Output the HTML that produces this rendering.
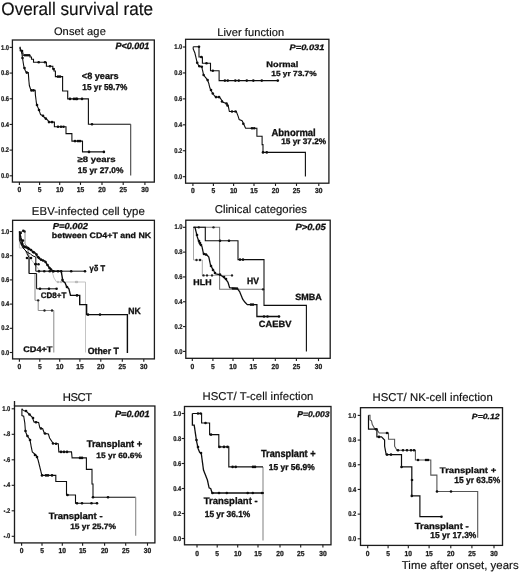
<!DOCTYPE html>
<html><head><meta charset="utf-8"><title>Overall survival rate</title>
<style>html,body{margin:0;padding:0;background:#fff;} body{width:520px;height:573px;overflow:hidden;}</style>
</head><body>
<svg width="520" height="573" viewBox="0 0 520 573" style="display:block">
<rect width="520" height="573" fill="#fff"/>
<defs><filter id="bl" x="-2%" y="-2%" width="104%" height="104%"><feGaussianBlur stdDeviation="0.35"/></filter></defs>
<g font-family='"Liberation Sans", sans-serif' text-rendering="geometricPrecision" filter="url(#bl)">
<text transform="translate(1.30,15.00) scale(1,1.06)" font-size="17.0" font-weight="normal" font-style="normal" fill="#111" textLength="151.80" lengthAdjust="spacingAndGlyphs" stroke="#111" stroke-width="0.16">Overall survival rate</text>
<text x="53.90" y="34.60" font-size="11.1" font-weight="normal" font-style="normal" fill="#111" textLength="51.90" lengthAdjust="spacing" stroke="#111" stroke-width="0.16">Onset age</text>
<rect x="12.40" y="40.00" width="141.90" height="142.10" fill="none" stroke="#1a1a1a" stroke-width="1.3"/>
<line x1="9.60" y1="47.40" x2="12.40" y2="47.40" stroke="#1a1a1a" stroke-width="1.1"/>
<text transform="translate(9.10,49.50) scale(1,1.2)" font-size="5.8" font-weight="bold" font-style="normal" fill="#1a1a1a" text-anchor="end" stroke="#1a1a1a" stroke-width="0.2">1.0</text>
<line x1="9.60" y1="73.08" x2="12.40" y2="73.08" stroke="#1a1a1a" stroke-width="1.1"/>
<text transform="translate(9.10,75.18) scale(1,1.2)" font-size="5.8" font-weight="bold" font-style="normal" fill="#1a1a1a" text-anchor="end" stroke="#1a1a1a" stroke-width="0.2">0.8</text>
<line x1="9.60" y1="98.76" x2="12.40" y2="98.76" stroke="#1a1a1a" stroke-width="1.1"/>
<text transform="translate(9.10,100.86) scale(1,1.2)" font-size="5.8" font-weight="bold" font-style="normal" fill="#1a1a1a" text-anchor="end" stroke="#1a1a1a" stroke-width="0.2">0.6</text>
<line x1="9.60" y1="124.44" x2="12.40" y2="124.44" stroke="#1a1a1a" stroke-width="1.1"/>
<text transform="translate(9.10,126.54) scale(1,1.2)" font-size="5.8" font-weight="bold" font-style="normal" fill="#1a1a1a" text-anchor="end" stroke="#1a1a1a" stroke-width="0.2">0.4</text>
<line x1="9.60" y1="150.12" x2="12.40" y2="150.12" stroke="#1a1a1a" stroke-width="1.1"/>
<text transform="translate(9.10,152.22) scale(1,1.2)" font-size="5.8" font-weight="bold" font-style="normal" fill="#1a1a1a" text-anchor="end" stroke="#1a1a1a" stroke-width="0.2">0.2</text>
<line x1="9.60" y1="175.80" x2="12.40" y2="175.80" stroke="#1a1a1a" stroke-width="1.1"/>
<text transform="translate(9.10,177.90) scale(1,1.2)" font-size="5.8" font-weight="bold" font-style="normal" fill="#1a1a1a" text-anchor="end" stroke="#1a1a1a" stroke-width="0.2">0.0</text>
<line x1="19.40" y1="182.10" x2="19.40" y2="184.90" stroke="#1a1a1a" stroke-width="1.1"/>
<text transform="translate(19.40,192.40) scale(1,1.08)" font-size="6.7" font-weight="bold" font-style="normal" fill="#1a1a1a" text-anchor="middle" stroke="#1a1a1a" stroke-width="0.25">0</text>
<line x1="39.60" y1="182.10" x2="39.60" y2="184.90" stroke="#1a1a1a" stroke-width="1.1"/>
<text transform="translate(39.60,192.40) scale(1,1.08)" font-size="6.7" font-weight="bold" font-style="normal" fill="#1a1a1a" text-anchor="middle" stroke="#1a1a1a" stroke-width="0.25">5</text>
<line x1="59.70" y1="182.10" x2="59.70" y2="184.90" stroke="#1a1a1a" stroke-width="1.1"/>
<text transform="translate(59.70,192.40) scale(1,1.08)" font-size="6.7" font-weight="bold" font-style="normal" fill="#1a1a1a" text-anchor="middle" stroke="#1a1a1a" stroke-width="0.25">10</text>
<line x1="80.50" y1="182.10" x2="80.50" y2="184.90" stroke="#1a1a1a" stroke-width="1.1"/>
<text transform="translate(80.50,192.40) scale(1,1.08)" font-size="6.7" font-weight="bold" font-style="normal" fill="#1a1a1a" text-anchor="middle" stroke="#1a1a1a" stroke-width="0.25">15</text>
<line x1="102.00" y1="182.10" x2="102.00" y2="184.90" stroke="#1a1a1a" stroke-width="1.1"/>
<text transform="translate(102.00,192.40) scale(1,1.08)" font-size="6.7" font-weight="bold" font-style="normal" fill="#1a1a1a" text-anchor="middle" stroke="#1a1a1a" stroke-width="0.25">20</text>
<line x1="123.20" y1="182.10" x2="123.20" y2="184.90" stroke="#1a1a1a" stroke-width="1.1"/>
<text transform="translate(123.20,192.40) scale(1,1.08)" font-size="6.7" font-weight="bold" font-style="normal" fill="#1a1a1a" text-anchor="middle" stroke="#1a1a1a" stroke-width="0.25">25</text>
<line x1="144.90" y1="182.10" x2="144.90" y2="184.90" stroke="#1a1a1a" stroke-width="1.1"/>
<text transform="translate(144.90,192.40) scale(1,1.08)" font-size="6.7" font-weight="bold" font-style="normal" fill="#1a1a1a" text-anchor="middle" stroke="#1a1a1a" stroke-width="0.25">30</text>
<text transform="translate(115.45,48.80) scale(1,1.019)" font-size="9.03" font-weight="bold" font-style="italic" fill="#111" textLength="33.90" lengthAdjust="spacingAndGlyphs" stroke="#111" stroke-width="0.32">P&lt;0.001</text>
<text transform="translate(81.85,78.80) scale(1,1.008)" font-size="9.1" font-weight="bold" font-style="normal" fill="#111" textLength="36.70" lengthAdjust="spacingAndGlyphs" stroke="#111" stroke-width="0.32">&lt;8 years</text>
<text transform="translate(82.35,90.00) scale(1,1.043)" font-size="8.26" font-weight="bold" font-style="normal" fill="#111" textLength="45.00" lengthAdjust="spacingAndGlyphs" stroke="#111" stroke-width="0.32">15 yr 59.7%</text>
<text transform="translate(77.45,162.30) scale(1,0.838)" font-size="9.56" font-weight="bold" font-style="normal" fill="#111" textLength="38.20" lengthAdjust="spacingAndGlyphs" stroke="#111" stroke-width="0.32">≥8 years</text>
<text transform="translate(77.85,173.00) scale(1,0.983)" font-size="8.35" font-weight="bold" font-style="normal" fill="#111" textLength="45.50" lengthAdjust="spacingAndGlyphs" stroke="#111" stroke-width="0.32">15 yr 27.0%</text>
<polyline points="19.60,47.40 20.20,47.40 20.20,50.70 21.90,50.70 21.90,53.00 23.00,53.00 23.00,55.30 30.00,55.30 30.00,57.00 31.50,57.00 31.50,59.30 33.50,59.30 33.50,62.20 46.40,62.20 46.40,66.20 52.80,66.20 52.80,68.50 54.00,68.50 54.00,71.00 55.40,71.00 55.40,76.60 62.60,76.60 62.60,91.00 67.70,91.00 67.70,98.90 88.40,98.90 88.40,124.30 130.70,124.30" fill="none" stroke="#111" stroke-width="1.1" stroke-linejoin="miter" stroke-linecap="butt"/>
<polyline points="130.70,124.30 130.70,175.60" fill="none" stroke="#444" stroke-width="1.1" stroke-linejoin="miter" stroke-linecap="butt"/>
<circle cx="22.00" cy="51.00" r="1.30" fill="#111"/>
<circle cx="25.00" cy="55.30" r="1.30" fill="#111"/>
<circle cx="27.00" cy="55.30" r="1.30" fill="#111"/>
<circle cx="29.00" cy="55.30" r="1.30" fill="#111"/>
<circle cx="38.70" cy="62.20" r="1.30" fill="#111"/>
<circle cx="45.00" cy="62.20" r="1.30" fill="#111"/>
<circle cx="50.00" cy="66.20" r="1.30" fill="#111"/>
<circle cx="53.50" cy="69.00" r="1.30" fill="#111"/>
<circle cx="58.00" cy="76.60" r="1.30" fill="#111"/>
<circle cx="60.00" cy="76.60" r="1.30" fill="#111"/>
<circle cx="70.00" cy="98.90" r="1.30" fill="#111"/>
<circle cx="74.00" cy="98.90" r="1.30" fill="#111"/>
<circle cx="76.00" cy="98.90" r="1.30" fill="#111"/>
<circle cx="77.00" cy="98.90" r="1.30" fill="#111"/>
<circle cx="82.00" cy="98.90" r="1.30" fill="#111"/>
<circle cx="92.00" cy="124.30" r="1.30" fill="#111"/>
<polyline points="19.60,47.40 21.00,50.00 21.90,53.50 22.50,58.00 23.60,65.00 24.20,68.00 25.40,70.80 26.50,72.60 28.30,72.60 28.60,77.00 28.80,80.00 29.40,85.80 30.60,89.30 31.50,90.40 35.20,90.40 35.40,95.00 36.50,103.70 37.50,106.50 38.80,109.40 40.60,114.60 42.90,115.80 44.00,117.00 45.80,118.60 47.50,120.00 49.20,122.10 54.40,122.10 54.40,126.70 66.00,126.70 66.00,133.60 71.90,133.60 71.90,141.10 82.50,141.10 82.50,151.90 103.90,151.90" fill="none" stroke="#111" stroke-width="1.1" stroke-linejoin="miter" stroke-linecap="butt"/>
<circle cx="22.50" cy="58.00" r="1.30" fill="#111"/>
<circle cx="24.50" cy="68.00" r="1.30" fill="#111"/>
<circle cx="26.80" cy="72.60" r="1.30" fill="#111"/>
<circle cx="31.50" cy="90.40" r="1.30" fill="#111"/>
<circle cx="33.50" cy="90.40" r="1.30" fill="#111"/>
<circle cx="37.00" cy="105.00" r="1.30" fill="#111"/>
<circle cx="39.00" cy="110.00" r="1.30" fill="#111"/>
<circle cx="43.00" cy="115.80" r="1.30" fill="#111"/>
<circle cx="45.80" cy="118.60" r="1.30" fill="#111"/>
<circle cx="49.00" cy="122.10" r="1.30" fill="#111"/>
<circle cx="52.00" cy="122.10" r="1.30" fill="#111"/>
<circle cx="58.00" cy="126.70" r="1.30" fill="#111"/>
<circle cx="61.00" cy="126.70" r="1.30" fill="#111"/>
<circle cx="63.50" cy="126.70" r="1.30" fill="#111"/>
<circle cx="75.00" cy="141.10" r="1.30" fill="#111"/>
<circle cx="78.00" cy="141.10" r="1.30" fill="#111"/>
<circle cx="80.00" cy="141.10" r="1.30" fill="#111"/>
<circle cx="89.00" cy="151.90" r="1.30" fill="#111"/>
<circle cx="103.90" cy="151.90" r="1.30" fill="#111"/>
<text x="217.30" y="36.30" font-size="11.1" font-weight="normal" font-style="normal" fill="#111" textLength="66.90" lengthAdjust="spacing" stroke="#111" stroke-width="0.16">Liver function</text>
<rect x="185.60" y="39.30" width="143.30" height="143.90" fill="none" stroke="#1a1a1a" stroke-width="1.3"/>
<line x1="182.80" y1="47.00" x2="185.60" y2="47.00" stroke="#1a1a1a" stroke-width="1.1"/>
<text transform="translate(182.30,49.10) scale(1,1.2)" font-size="5.8" font-weight="bold" font-style="normal" fill="#1a1a1a" text-anchor="end" stroke="#1a1a1a" stroke-width="0.2">1.0</text>
<line x1="182.80" y1="72.94" x2="185.60" y2="72.94" stroke="#1a1a1a" stroke-width="1.1"/>
<text transform="translate(182.30,75.04) scale(1,1.2)" font-size="5.8" font-weight="bold" font-style="normal" fill="#1a1a1a" text-anchor="end" stroke="#1a1a1a" stroke-width="0.2">0.8</text>
<line x1="182.80" y1="98.88" x2="185.60" y2="98.88" stroke="#1a1a1a" stroke-width="1.1"/>
<text transform="translate(182.30,100.98) scale(1,1.2)" font-size="5.8" font-weight="bold" font-style="normal" fill="#1a1a1a" text-anchor="end" stroke="#1a1a1a" stroke-width="0.2">0.6</text>
<line x1="182.80" y1="124.82" x2="185.60" y2="124.82" stroke="#1a1a1a" stroke-width="1.1"/>
<text transform="translate(182.30,126.92) scale(1,1.2)" font-size="5.8" font-weight="bold" font-style="normal" fill="#1a1a1a" text-anchor="end" stroke="#1a1a1a" stroke-width="0.2">0.4</text>
<line x1="182.80" y1="150.76" x2="185.60" y2="150.76" stroke="#1a1a1a" stroke-width="1.1"/>
<text transform="translate(182.30,152.86) scale(1,1.2)" font-size="5.8" font-weight="bold" font-style="normal" fill="#1a1a1a" text-anchor="end" stroke="#1a1a1a" stroke-width="0.2">0.2</text>
<line x1="182.80" y1="176.70" x2="185.60" y2="176.70" stroke="#1a1a1a" stroke-width="1.1"/>
<text transform="translate(182.30,178.80) scale(1,1.2)" font-size="5.8" font-weight="bold" font-style="normal" fill="#1a1a1a" text-anchor="end" stroke="#1a1a1a" stroke-width="0.2">0.0</text>
<line x1="192.90" y1="183.20" x2="192.90" y2="186.00" stroke="#1a1a1a" stroke-width="1.1"/>
<text transform="translate(192.90,193.20) scale(1,1.08)" font-size="6.7" font-weight="bold" font-style="normal" fill="#1a1a1a" text-anchor="middle" stroke="#1a1a1a" stroke-width="0.25">0</text>
<line x1="213.40" y1="183.20" x2="213.40" y2="186.00" stroke="#1a1a1a" stroke-width="1.1"/>
<text transform="translate(213.40,193.20) scale(1,1.08)" font-size="6.7" font-weight="bold" font-style="normal" fill="#1a1a1a" text-anchor="middle" stroke="#1a1a1a" stroke-width="0.25">5</text>
<line x1="233.60" y1="183.20" x2="233.60" y2="186.00" stroke="#1a1a1a" stroke-width="1.1"/>
<text transform="translate(233.60,193.20) scale(1,1.08)" font-size="6.7" font-weight="bold" font-style="normal" fill="#1a1a1a" text-anchor="middle" stroke="#1a1a1a" stroke-width="0.25">10</text>
<line x1="254.00" y1="183.20" x2="254.00" y2="186.00" stroke="#1a1a1a" stroke-width="1.1"/>
<text transform="translate(254.00,193.20) scale(1,1.08)" font-size="6.7" font-weight="bold" font-style="normal" fill="#1a1a1a" text-anchor="middle" stroke="#1a1a1a" stroke-width="0.25">15</text>
<line x1="275.50" y1="183.20" x2="275.50" y2="186.00" stroke="#1a1a1a" stroke-width="1.1"/>
<text transform="translate(275.50,193.20) scale(1,1.08)" font-size="6.7" font-weight="bold" font-style="normal" fill="#1a1a1a" text-anchor="middle" stroke="#1a1a1a" stroke-width="0.25">20</text>
<line x1="296.50" y1="183.20" x2="296.50" y2="186.00" stroke="#1a1a1a" stroke-width="1.1"/>
<text transform="translate(296.50,193.20) scale(1,1.08)" font-size="6.7" font-weight="bold" font-style="normal" fill="#1a1a1a" text-anchor="middle" stroke="#1a1a1a" stroke-width="0.25">25</text>
<line x1="318.80" y1="183.20" x2="318.80" y2="186.00" stroke="#1a1a1a" stroke-width="1.1"/>
<text transform="translate(318.80,193.20) scale(1,1.08)" font-size="6.7" font-weight="bold" font-style="normal" fill="#1a1a1a" text-anchor="middle" stroke="#1a1a1a" stroke-width="0.25">30</text>
<text transform="translate(289.55,50.30) scale(1,0.853)" font-size="9.3" font-weight="bold" font-style="italic" fill="#111" textLength="34.90" lengthAdjust="spacingAndGlyphs" stroke="#111" stroke-width="0.32">P=0.031</text>
<text transform="translate(266.35,67.40) scale(1,0.871)" font-size="9.29" font-weight="bold" font-style="normal" fill="#111" textLength="32.00" lengthAdjust="spacingAndGlyphs" stroke="#111" stroke-width="0.32">Normal</text>
<text transform="translate(271.25,76.40) scale(1,0.884)" font-size="8.33" font-weight="bold" font-style="normal" fill="#111" textLength="45.40" lengthAdjust="spacingAndGlyphs" stroke="#111" stroke-width="0.32">15 yr 73.7%</text>
<text transform="translate(271.45,135.60) scale(1,1.057)" font-size="9.49" font-weight="bold" font-style="normal" fill="#111" textLength="44.30" lengthAdjust="spacingAndGlyphs" stroke="#111" stroke-width="0.32">Abnormal</text>
<text transform="translate(281.15,143.80) scale(1,0.989)" font-size="8.26" font-weight="bold" font-style="normal" fill="#111" textLength="45.00" lengthAdjust="spacingAndGlyphs" stroke="#111" stroke-width="0.32">15 yr 37.2%</text>
<polyline points="193.20,46.80 199.00,46.80 199.00,57.00 202.40,57.00 202.40,63.30 210.50,63.30 210.50,70.80 219.10,70.80 219.10,80.60 278.60,80.60" fill="none" stroke="#111" stroke-width="1.1" stroke-linejoin="miter" stroke-linecap="butt"/>
<circle cx="199.00" cy="46.80" r="1.30" fill="#111"/>
<circle cx="201.30" cy="57.00" r="1.30" fill="#111"/>
<circle cx="206.50" cy="63.30" r="1.30" fill="#111"/>
<circle cx="212.80" cy="70.80" r="1.30" fill="#111"/>
<circle cx="224.90" cy="80.60" r="1.30" fill="#111"/>
<circle cx="227.80" cy="80.60" r="1.30" fill="#111"/>
<circle cx="235.30" cy="80.60" r="1.30" fill="#111"/>
<circle cx="238.80" cy="80.60" r="1.30" fill="#111"/>
<circle cx="246.80" cy="80.60" r="1.30" fill="#111"/>
<circle cx="253.30" cy="80.60" r="1.30" fill="#111"/>
<circle cx="261.80" cy="80.60" r="1.30" fill="#111"/>
<circle cx="277.80" cy="80.60" r="1.30" fill="#111"/>
<polyline points="193.20,46.80 193.20,48.90 194.90,53.00 196.10,58.10 197.20,62.80 199.00,66.20 201.80,66.80 202.40,69.70 203.60,74.90 205.30,77.20 207.60,80.10 208.80,83.50 209.90,88.10 211.60,91.60 213.40,94.50 215.70,97.10 219.60,97.10 223.10,102.30 226.50,103.50 228.30,106.30 229.40,111.50 236.30,111.50 238.10,116.10 239.20,119.60 242.10,120.80 243.80,124.20 245.60,128.30 256.90,128.30 256.90,136.30 262.10,136.30 262.10,144.60 263.00,144.60 263.00,152.40 305.40,152.40 305.40,176.60" fill="none" stroke="#111" stroke-width="1.1" stroke-linejoin="miter" stroke-linecap="butt"/>
<circle cx="197.20" cy="62.80" r="1.30" fill="#111"/>
<circle cx="199.50" cy="66.30" r="1.30" fill="#111"/>
<circle cx="201.80" cy="66.80" r="1.30" fill="#111"/>
<circle cx="203.60" cy="75.00" r="1.30" fill="#111"/>
<circle cx="207.60" cy="80.10" r="1.30" fill="#111"/>
<circle cx="211.00" cy="90.00" r="1.30" fill="#111"/>
<circle cx="212.80" cy="93.50" r="1.30" fill="#111"/>
<circle cx="216.00" cy="97.10" r="1.30" fill="#111"/>
<circle cx="219.00" cy="97.10" r="1.30" fill="#111"/>
<circle cx="222.00" cy="101.50" r="1.30" fill="#111"/>
<circle cx="226.50" cy="103.50" r="1.30" fill="#111"/>
<circle cx="227.50" cy="105.50" r="1.30" fill="#111"/>
<circle cx="232.00" cy="111.50" r="1.30" fill="#111"/>
<circle cx="235.50" cy="111.50" r="1.30" fill="#111"/>
<circle cx="243.30" cy="123.70" r="1.30" fill="#111"/>
<circle cx="252.00" cy="128.30" r="1.30" fill="#111"/>
<circle cx="254.20" cy="128.30" r="1.30" fill="#111"/>
<circle cx="263.00" cy="152.40" r="1.30" fill="#111"/>
<circle cx="266.80" cy="152.40" r="1.30" fill="#111"/>
<text x="31.70" y="214.80" font-size="11.4" font-weight="normal" font-style="normal" fill="#111" textLength="113.20" lengthAdjust="spacing" stroke="#111" stroke-width="0.16">EBV-infected cell type</text>
<rect x="12.60" y="220.30" width="141.80" height="138.60" fill="none" stroke="#1a1a1a" stroke-width="1.3"/>
<line x1="9.80" y1="231.50" x2="12.60" y2="231.50" stroke="#1a1a1a" stroke-width="1.1"/>
<text transform="translate(9.30,233.60) scale(1,1.2)" font-size="5.8" font-weight="bold" font-style="normal" fill="#1a1a1a" text-anchor="end" stroke="#1a1a1a" stroke-width="0.2">1.0</text>
<line x1="9.80" y1="255.70" x2="12.60" y2="255.70" stroke="#1a1a1a" stroke-width="1.1"/>
<text transform="translate(9.30,257.80) scale(1,1.2)" font-size="5.8" font-weight="bold" font-style="normal" fill="#1a1a1a" text-anchor="end" stroke="#1a1a1a" stroke-width="0.2">0.8</text>
<line x1="9.80" y1="279.90" x2="12.60" y2="279.90" stroke="#1a1a1a" stroke-width="1.1"/>
<text transform="translate(9.30,282.00) scale(1,1.2)" font-size="5.8" font-weight="bold" font-style="normal" fill="#1a1a1a" text-anchor="end" stroke="#1a1a1a" stroke-width="0.2">0.6</text>
<line x1="9.80" y1="304.10" x2="12.60" y2="304.10" stroke="#1a1a1a" stroke-width="1.1"/>
<text transform="translate(9.30,306.20) scale(1,1.2)" font-size="5.8" font-weight="bold" font-style="normal" fill="#1a1a1a" text-anchor="end" stroke="#1a1a1a" stroke-width="0.2">0.4</text>
<line x1="9.80" y1="328.30" x2="12.60" y2="328.30" stroke="#1a1a1a" stroke-width="1.1"/>
<text transform="translate(9.30,330.40) scale(1,1.2)" font-size="5.8" font-weight="bold" font-style="normal" fill="#1a1a1a" text-anchor="end" stroke="#1a1a1a" stroke-width="0.2">0.2</text>
<line x1="9.80" y1="352.50" x2="12.60" y2="352.50" stroke="#1a1a1a" stroke-width="1.1"/>
<text transform="translate(9.30,354.60) scale(1,1.2)" font-size="5.8" font-weight="bold" font-style="normal" fill="#1a1a1a" text-anchor="end" stroke="#1a1a1a" stroke-width="0.2">0.0</text>
<line x1="19.40" y1="358.90" x2="19.40" y2="361.70" stroke="#1a1a1a" stroke-width="1.1"/>
<text transform="translate(19.40,369.40) scale(1,1.08)" font-size="6.7" font-weight="bold" font-style="normal" fill="#1a1a1a" text-anchor="middle" stroke="#1a1a1a" stroke-width="0.25">0</text>
<line x1="39.80" y1="358.90" x2="39.80" y2="361.70" stroke="#1a1a1a" stroke-width="1.1"/>
<text transform="translate(39.80,369.40) scale(1,1.08)" font-size="6.7" font-weight="bold" font-style="normal" fill="#1a1a1a" text-anchor="middle" stroke="#1a1a1a" stroke-width="0.25">5</text>
<line x1="59.70" y1="358.90" x2="59.70" y2="361.70" stroke="#1a1a1a" stroke-width="1.1"/>
<text transform="translate(59.70,369.40) scale(1,1.08)" font-size="6.7" font-weight="bold" font-style="normal" fill="#1a1a1a" text-anchor="middle" stroke="#1a1a1a" stroke-width="0.25">10</text>
<line x1="79.90" y1="358.90" x2="79.90" y2="361.70" stroke="#1a1a1a" stroke-width="1.1"/>
<text transform="translate(79.90,369.40) scale(1,1.08)" font-size="6.7" font-weight="bold" font-style="normal" fill="#1a1a1a" text-anchor="middle" stroke="#1a1a1a" stroke-width="0.25">15</text>
<line x1="100.80" y1="358.90" x2="100.80" y2="361.70" stroke="#1a1a1a" stroke-width="1.1"/>
<text transform="translate(100.80,369.40) scale(1,1.08)" font-size="6.7" font-weight="bold" font-style="normal" fill="#1a1a1a" text-anchor="middle" stroke="#1a1a1a" stroke-width="0.25">20</text>
<line x1="122.30" y1="358.90" x2="122.30" y2="361.70" stroke="#1a1a1a" stroke-width="1.1"/>
<text transform="translate(122.30,369.40) scale(1,1.08)" font-size="6.7" font-weight="bold" font-style="normal" fill="#1a1a1a" text-anchor="middle" stroke="#1a1a1a" stroke-width="0.25">25</text>
<line x1="143.80" y1="358.90" x2="143.80" y2="361.70" stroke="#1a1a1a" stroke-width="1.1"/>
<text transform="translate(143.80,369.40) scale(1,1.08)" font-size="6.7" font-weight="bold" font-style="normal" fill="#1a1a1a" text-anchor="middle" stroke="#1a1a1a" stroke-width="0.25">30</text>
<text transform="translate(52.75,228.50) scale(1,0.924)" font-size="9.38" font-weight="bold" font-style="italic" fill="#111" textLength="35.20" lengthAdjust="spacingAndGlyphs" stroke="#111" stroke-width="0.32">P=0.002</text>
<text transform="translate(51.85,238.00) scale(1,0.892)" font-size="8.83" font-weight="bold" font-style="normal" fill="#111" textLength="99.30" lengthAdjust="spacingAndGlyphs" stroke="#111" stroke-width="0.32">between CD4+T and NK</text>
<text transform="translate(89.55,270.70) scale(1,1.097)" font-size="7.56" font-weight="bold" font-style="normal" fill="#111" textLength="15.50" lengthAdjust="spacingAndGlyphs" stroke="#111" stroke-width="0.32">γδ T</text>
<text transform="translate(40.85,298.20) scale(1,1.001)" font-size="7.95" font-weight="bold" font-style="normal" fill="#111" textLength="25.40" lengthAdjust="spacingAndGlyphs" stroke="#111" stroke-width="0.32">CD8+T</text>
<text transform="translate(128.35,314.20) scale(1,1.034)" font-size="8.65" font-weight="bold" font-style="normal" fill="#111" textLength="12.50" lengthAdjust="spacingAndGlyphs" stroke="#111" stroke-width="0.32">NK</text>
<text transform="translate(23.15,352.30) scale(1,0.891)" font-size="9.17" font-weight="bold" font-style="normal" fill="#111" textLength="29.30" lengthAdjust="spacingAndGlyphs" stroke="#111" stroke-width="0.32">CD4+T</text>
<text transform="translate(87.75,353.80) scale(1,1.046)" font-size="8.75" font-weight="bold" font-style="normal" fill="#111" textLength="31.10" lengthAdjust="spacingAndGlyphs" stroke="#111" stroke-width="0.32">Other T</text>
<polyline points="19.40,231.50 19.40,248.00 23.00,248.00 25.00,250.00 27.00,255.00 30.00,258.00 33.00,262.00 36.00,266.00 40.00,271.00 52.00,271.00 54.00,278.00 56.60,282.00 85.50,282.00 85.50,352.50" fill="none" stroke="#c4c4c4" stroke-width="1.0" stroke-linejoin="miter" stroke-linecap="butt"/>
<circle cx="58.00" cy="282.00" r="1.17" fill="#bbb"/>
<circle cx="61.00" cy="282.00" r="1.17" fill="#bbb"/>
<circle cx="76.00" cy="282.00" r="1.17" fill="#bbb"/>
<circle cx="77.00" cy="282.00" r="1.17" fill="#bbb"/>
<polyline points="19.40,231.50 25.00,231.50 25.00,244.00 27.00,246.00 29.50,258.00 29.50,273.50 35.00,273.50 35.00,300.30 38.20,300.30 38.20,310.50 53.80,310.50 53.80,352.50" fill="none" stroke="#8a8a8a" stroke-width="1.0" stroke-linejoin="miter" stroke-linecap="butt"/>
<circle cx="24.60" cy="231.50" r="1.17" fill="#222"/>
<circle cx="38.20" cy="300.30" r="1.17" fill="#222"/>
<circle cx="44.50" cy="310.50" r="1.17" fill="#222"/>
<circle cx="52.00" cy="310.50" r="1.17" fill="#222"/>
<polyline points="19.40,231.50 19.40,240.00 21.00,244.00 23.00,248.00 26.00,251.00 28.90,257.30 28.90,273.50 36.60,273.50 36.60,288.80 56.60,288.80" fill="none" stroke="#111" stroke-width="1.0" stroke-linejoin="miter" stroke-linecap="butt"/>
<circle cx="40.00" cy="288.80" r="1.30" fill="#111"/>
<circle cx="49.00" cy="288.80" r="1.30" fill="#111"/>
<circle cx="56.60" cy="288.80" r="1.30" fill="#111"/>
<circle cx="27.00" cy="258.00" r="1.30" fill="#111"/>
<circle cx="31.00" cy="258.00" r="1.30" fill="#111"/>
<polyline points="19.40,231.50 20.50,240.00 22.00,245.00 24.00,249.00 27.00,252.00 30.50,254.00 33.00,256.00 35.80,257.00 35.80,271.20 85.80,271.20" fill="none" stroke="#111" stroke-width="1.0" stroke-linejoin="miter" stroke-linecap="butt"/>
<circle cx="39.00" cy="271.20" r="1.30" fill="#111"/>
<circle cx="44.30" cy="271.20" r="1.30" fill="#111"/>
<circle cx="49.70" cy="271.20" r="1.30" fill="#111"/>
<circle cx="53.50" cy="271.20" r="1.30" fill="#111"/>
<circle cx="58.00" cy="271.20" r="1.30" fill="#111"/>
<circle cx="61.20" cy="271.20" r="1.30" fill="#111"/>
<circle cx="71.20" cy="271.20" r="1.30" fill="#111"/>
<circle cx="85.00" cy="271.20" r="1.30" fill="#111"/>
<circle cx="35.50" cy="264.00" r="1.30" fill="#111"/>
<polyline points="19.40,231.50 21.00,238.00 23.50,246.50 28.20,248.00 31.20,250.40 35.80,253.50 37.40,256.50 40.50,259.60 45.00,261.00 47.40,265.00 49.70,268.00 52.80,271.20 61.20,271.20 62.00,275.80 62.80,281.20 65.00,282.70 66.60,286.50 68.90,288.80 70.50,295.40 79.70,295.40 79.70,304.60 86.60,304.60 86.60,314.60 127.40,314.60 127.40,353.00" fill="none" stroke="#111" stroke-width="1.4" stroke-linejoin="miter" stroke-linecap="butt"/>
<circle cx="22.00" cy="244.00" r="1.30" fill="#111"/>
<circle cx="25.00" cy="247.00" r="1.30" fill="#111"/>
<circle cx="29.00" cy="249.00" r="1.30" fill="#111"/>
<circle cx="33.00" cy="252.00" r="1.30" fill="#111"/>
<circle cx="38.00" cy="257.00" r="1.30" fill="#111"/>
<circle cx="41.00" cy="259.60" r="1.30" fill="#111"/>
<circle cx="88.00" cy="314.60" r="1.30" fill="#111"/>
<circle cx="100.00" cy="314.60" r="1.30" fill="#111"/>
<circle cx="62.50" cy="280.00" r="1.30" fill="#111"/>
<circle cx="67.00" cy="287.00" r="1.30" fill="#111"/>
<circle cx="77.00" cy="295.40" r="1.30" fill="#111"/>
<circle cx="24.50" cy="246.50" r="1.30" fill="#111"/>
<circle cx="26.50" cy="247.50" r="1.30" fill="#111"/>
<circle cx="28.00" cy="248.00" r="1.30" fill="#111"/>
<circle cx="31.00" cy="250.00" r="1.30" fill="#111"/>
<circle cx="34.00" cy="252.50" r="1.30" fill="#111"/>
<circle cx="36.50" cy="254.50" r="1.30" fill="#111"/>
<circle cx="39.00" cy="258.00" r="1.30" fill="#111"/>
<circle cx="43.00" cy="260.50" r="1.30" fill="#111"/>
<circle cx="45.50" cy="262.00" r="1.30" fill="#111"/>
<circle cx="47.50" cy="265.00" r="1.30" fill="#111"/>
<circle cx="49.50" cy="268.00" r="1.30" fill="#111"/>
<circle cx="51.00" cy="269.50" r="1.30" fill="#111"/>
<circle cx="53.00" cy="271.20" r="1.30" fill="#111"/>
<circle cx="35.60" cy="264.20" r="1.30" fill="#111"/>
<circle cx="38.50" cy="264.20" r="1.30" fill="#111"/>
<circle cx="23.30" cy="230.80" r="1.30" fill="#111"/>
<circle cx="22.90" cy="240.60" r="1.30" fill="#111"/>
<circle cx="20.70" cy="233.00" r="1.30" fill="#111"/>
<text x="214.70" y="213.30" font-size="11.3" font-weight="normal" font-style="normal" fill="#111" textLength="92.30" lengthAdjust="spacing" stroke="#111" stroke-width="0.16">Clinical categories</text>
<rect x="185.80" y="220.20" width="144.40" height="138.10" fill="none" stroke="#1a1a1a" stroke-width="1.3"/>
<line x1="183.00" y1="227.30" x2="185.80" y2="227.30" stroke="#1a1a1a" stroke-width="1.1"/>
<text transform="translate(182.50,229.40) scale(1,1.2)" font-size="5.8" font-weight="bold" font-style="normal" fill="#1a1a1a" text-anchor="end" stroke="#1a1a1a" stroke-width="0.2">1.0</text>
<line x1="183.00" y1="252.12" x2="185.80" y2="252.12" stroke="#1a1a1a" stroke-width="1.1"/>
<text transform="translate(182.50,254.22) scale(1,1.2)" font-size="5.8" font-weight="bold" font-style="normal" fill="#1a1a1a" text-anchor="end" stroke="#1a1a1a" stroke-width="0.2">0.8</text>
<line x1="183.00" y1="276.94" x2="185.80" y2="276.94" stroke="#1a1a1a" stroke-width="1.1"/>
<text transform="translate(182.50,279.04) scale(1,1.2)" font-size="5.8" font-weight="bold" font-style="normal" fill="#1a1a1a" text-anchor="end" stroke="#1a1a1a" stroke-width="0.2">0.6</text>
<line x1="183.00" y1="301.76" x2="185.80" y2="301.76" stroke="#1a1a1a" stroke-width="1.1"/>
<text transform="translate(182.50,303.86) scale(1,1.2)" font-size="5.8" font-weight="bold" font-style="normal" fill="#1a1a1a" text-anchor="end" stroke="#1a1a1a" stroke-width="0.2">0.4</text>
<line x1="183.00" y1="326.58" x2="185.80" y2="326.58" stroke="#1a1a1a" stroke-width="1.1"/>
<text transform="translate(182.50,328.68) scale(1,1.2)" font-size="5.8" font-weight="bold" font-style="normal" fill="#1a1a1a" text-anchor="end" stroke="#1a1a1a" stroke-width="0.2">0.2</text>
<line x1="183.00" y1="351.40" x2="185.80" y2="351.40" stroke="#1a1a1a" stroke-width="1.1"/>
<text transform="translate(182.50,353.50) scale(1,1.2)" font-size="5.8" font-weight="bold" font-style="normal" fill="#1a1a1a" text-anchor="end" stroke="#1a1a1a" stroke-width="0.2">0.0</text>
<line x1="192.30" y1="358.30" x2="192.30" y2="361.10" stroke="#1a1a1a" stroke-width="1.1"/>
<text transform="translate(192.30,368.90) scale(1,1.08)" font-size="6.7" font-weight="bold" font-style="normal" fill="#1a1a1a" text-anchor="middle" stroke="#1a1a1a" stroke-width="0.25">0</text>
<line x1="212.90" y1="358.30" x2="212.90" y2="361.10" stroke="#1a1a1a" stroke-width="1.1"/>
<text transform="translate(212.90,368.90) scale(1,1.08)" font-size="6.7" font-weight="bold" font-style="normal" fill="#1a1a1a" text-anchor="middle" stroke="#1a1a1a" stroke-width="0.25">5</text>
<line x1="233.00" y1="358.30" x2="233.00" y2="361.10" stroke="#1a1a1a" stroke-width="1.1"/>
<text transform="translate(233.00,368.90) scale(1,1.08)" font-size="6.7" font-weight="bold" font-style="normal" fill="#1a1a1a" text-anchor="middle" stroke="#1a1a1a" stroke-width="0.25">10</text>
<line x1="253.30" y1="358.30" x2="253.30" y2="361.10" stroke="#1a1a1a" stroke-width="1.1"/>
<text transform="translate(253.30,368.90) scale(1,1.08)" font-size="6.7" font-weight="bold" font-style="normal" fill="#1a1a1a" text-anchor="middle" stroke="#1a1a1a" stroke-width="0.25">15</text>
<line x1="275.30" y1="358.30" x2="275.30" y2="361.10" stroke="#1a1a1a" stroke-width="1.1"/>
<text transform="translate(275.30,368.90) scale(1,1.08)" font-size="6.7" font-weight="bold" font-style="normal" fill="#1a1a1a" text-anchor="middle" stroke="#1a1a1a" stroke-width="0.25">20</text>
<line x1="296.40" y1="358.30" x2="296.40" y2="361.10" stroke="#1a1a1a" stroke-width="1.1"/>
<text transform="translate(296.40,368.90) scale(1,1.08)" font-size="6.7" font-weight="bold" font-style="normal" fill="#1a1a1a" text-anchor="middle" stroke="#1a1a1a" stroke-width="0.25">25</text>
<line x1="318.50" y1="358.30" x2="318.50" y2="361.10" stroke="#1a1a1a" stroke-width="1.1"/>
<text transform="translate(318.50,368.90) scale(1,1.08)" font-size="6.7" font-weight="bold" font-style="normal" fill="#1a1a1a" text-anchor="middle" stroke="#1a1a1a" stroke-width="0.25">30</text>
<text transform="translate(295.55,230.40) scale(1,0.948)" font-size="9.41" font-weight="bold" font-style="italic" fill="#111" textLength="30.10" lengthAdjust="spacingAndGlyphs" stroke="#111" stroke-width="0.32">P&gt;0.05</text>
<text transform="translate(193.35,285.40) scale(1,0.929)" font-size="8.86" font-weight="bold" font-style="normal" fill="#111" textLength="18.20" lengthAdjust="spacingAndGlyphs" stroke="#111" stroke-width="0.32">HLH</text>
<text transform="translate(246.95,283.60) scale(1,1.078)" font-size="8.57" font-weight="bold" font-style="normal" fill="#111" textLength="11.90" lengthAdjust="spacingAndGlyphs" stroke="#111" stroke-width="0.32">HV</text>
<text transform="translate(295.15,299.70) scale(1,1.001)" font-size="9.0" font-weight="bold" font-style="normal" fill="#111" textLength="26.50" lengthAdjust="spacingAndGlyphs" stroke="#111" stroke-width="0.32">SMBA</text>
<text transform="translate(258.85,327.40) scale(1,0.97)" font-size="9.28" font-weight="bold" font-style="normal" fill="#111" textLength="32.50" lengthAdjust="spacingAndGlyphs" stroke="#111" stroke-width="0.32">CAEBV</text>
<polyline points="193.50,227.30 193.50,260.00 202.30,260.00 202.30,275.40 232.50,275.40" fill="none" stroke="#a8a8a8" stroke-width="1.0" stroke-linejoin="miter" stroke-linecap="butt"/>
<circle cx="196.50" cy="260.00" r="1.17" fill="#222"/>
<circle cx="200.00" cy="260.00" r="1.17" fill="#222"/>
<circle cx="203.50" cy="275.40" r="1.17" fill="#222"/>
<circle cx="207.00" cy="275.40" r="1.17" fill="#222"/>
<circle cx="212.00" cy="275.40" r="1.17" fill="#222"/>
<circle cx="232.00" cy="275.40" r="1.17" fill="#222"/>
<polyline points="193.50,227.30 219.60,227.30 219.60,289.30 264.00,289.30" fill="none" stroke="#7a7a7a" stroke-width="1.1" stroke-linejoin="miter" stroke-linecap="butt"/>
<circle cx="198.80" cy="227.30" r="1.17" fill="#222"/>
<circle cx="213.50" cy="227.30" r="1.17" fill="#222"/>
<circle cx="263.00" cy="289.30" r="1.17" fill="#222"/>
<polyline points="193.50,227.30 205.30,227.30 205.30,240.80 238.00,240.80 238.00,259.60 264.00,259.60 264.00,305.40 306.40,305.40 306.40,351.60" fill="none" stroke="#111" stroke-width="1.1" stroke-linejoin="miter" stroke-linecap="butt"/>
<circle cx="220.00" cy="240.80" r="1.30" fill="#111"/>
<circle cx="229.00" cy="240.80" r="1.30" fill="#111"/>
<circle cx="240.00" cy="259.60" r="1.30" fill="#111"/>
<circle cx="243.00" cy="259.60" r="1.30" fill="#111"/>
<polyline points="193.50,227.30 195.00,227.30 197.30,236.90 199.60,243.80 201.90,246.20 203.50,253.80 206.50,254.60 208.80,257.00 210.40,264.60 212.70,269.20 214.20,271.50 215.80,273.80 219.60,274.60 223.50,277.00 225.80,279.20 228.00,282.30 229.60,287.70 237.30,288.50 239.60,291.50 241.20,295.40 242.70,299.20 245.00,302.30 247.30,304.60 256.90,304.60 256.90,316.50 279.60,316.50" fill="none" stroke="#111" stroke-width="1.3" stroke-linejoin="miter" stroke-linecap="butt"/>
<circle cx="197.00" cy="235.00" r="1.30" fill="#111"/>
<circle cx="199.00" cy="241.00" r="1.30" fill="#111"/>
<circle cx="200.00" cy="243.00" r="1.30" fill="#111"/>
<circle cx="201.00" cy="245.00" r="1.30" fill="#111"/>
<circle cx="204.00" cy="254.00" r="1.30" fill="#111"/>
<circle cx="206.00" cy="254.60" r="1.30" fill="#111"/>
<circle cx="211.00" cy="266.00" r="1.30" fill="#111"/>
<circle cx="213.00" cy="270.00" r="1.30" fill="#111"/>
<circle cx="215.00" cy="273.00" r="1.30" fill="#111"/>
<circle cx="220.00" cy="274.60" r="1.30" fill="#111"/>
<circle cx="224.00" cy="277.00" r="1.30" fill="#111"/>
<circle cx="226.00" cy="279.00" r="1.30" fill="#111"/>
<circle cx="233.00" cy="288.50" r="1.30" fill="#111"/>
<circle cx="235.00" cy="288.50" r="1.30" fill="#111"/>
<circle cx="237.00" cy="288.50" r="1.30" fill="#111"/>
<circle cx="251.00" cy="304.60" r="1.30" fill="#111"/>
<circle cx="253.00" cy="304.60" r="1.30" fill="#111"/>
<circle cx="264.00" cy="316.50" r="1.30" fill="#111"/>
<circle cx="267.50" cy="316.50" r="1.30" fill="#111"/>
<circle cx="279.00" cy="316.50" r="1.30" fill="#111"/>
<text x="62.70" y="401.20" font-size="11.3" font-weight="normal" font-style="normal" fill="#111" textLength="29.50" lengthAdjust="spacing" stroke="#111" stroke-width="0.16">HSCT</text>
<rect x="14.50" y="406.00" width="140.40" height="136.90" fill="none" stroke="#1a1a1a" stroke-width="1.3"/>
<line x1="14.50" y1="401.00" x2="14.50" y2="406.00" stroke="#1a1a1a" stroke-width="1.3"/>
<line x1="11.70" y1="408.80" x2="14.50" y2="408.80" stroke="#1a1a1a" stroke-width="1.1"/>
<text transform="translate(10.30,410.90) scale(1,1.2)" font-size="5.8" font-weight="bold" font-style="normal" fill="#1a1a1a" text-anchor="end" stroke="#1a1a1a" stroke-width="0.2">1.0</text>
<line x1="11.70" y1="434.30" x2="14.50" y2="434.30" stroke="#1a1a1a" stroke-width="1.1"/>
<text transform="translate(10.30,436.40) scale(1,1.2)" font-size="5.8" font-weight="bold" font-style="normal" fill="#1a1a1a" text-anchor="end" stroke="#1a1a1a" stroke-width="0.2">.8</text>
<circle cx="4.50" cy="434.60" r="0.95" fill="#222"/>
<line x1="11.70" y1="459.80" x2="14.50" y2="459.80" stroke="#1a1a1a" stroke-width="1.1"/>
<text transform="translate(10.30,461.90) scale(1,1.2)" font-size="5.8" font-weight="bold" font-style="normal" fill="#1a1a1a" text-anchor="end" stroke="#1a1a1a" stroke-width="0.2">.6</text>
<circle cx="4.50" cy="460.10" r="0.95" fill="#222"/>
<line x1="11.70" y1="485.30" x2="14.50" y2="485.30" stroke="#1a1a1a" stroke-width="1.1"/>
<text transform="translate(10.30,487.40) scale(1,1.2)" font-size="5.8" font-weight="bold" font-style="normal" fill="#1a1a1a" text-anchor="end" stroke="#1a1a1a" stroke-width="0.2">.4</text>
<circle cx="4.50" cy="485.60" r="0.95" fill="#222"/>
<line x1="11.70" y1="510.80" x2="14.50" y2="510.80" stroke="#1a1a1a" stroke-width="1.1"/>
<text transform="translate(10.30,512.90) scale(1,1.2)" font-size="5.8" font-weight="bold" font-style="normal" fill="#1a1a1a" text-anchor="end" stroke="#1a1a1a" stroke-width="0.2">.2</text>
<circle cx="4.50" cy="511.10" r="0.95" fill="#222"/>
<line x1="11.70" y1="536.30" x2="14.50" y2="536.30" stroke="#1a1a1a" stroke-width="1.1"/>
<text transform="translate(10.30,538.40) scale(1,1.2)" font-size="5.8" font-weight="bold" font-style="normal" fill="#1a1a1a" text-anchor="end" stroke="#1a1a1a" stroke-width="0.2">.0</text>
<circle cx="4.50" cy="536.60" r="0.95" fill="#222"/>
<line x1="21.60" y1="542.90" x2="21.60" y2="545.70" stroke="#1a1a1a" stroke-width="1.1"/>
<text transform="translate(21.60,552.90) scale(1,1.08)" font-size="6.7" font-weight="bold" font-style="normal" fill="#1a1a1a" text-anchor="middle" stroke="#1a1a1a" stroke-width="0.25">0</text>
<line x1="42.00" y1="542.90" x2="42.00" y2="545.70" stroke="#1a1a1a" stroke-width="1.1"/>
<text transform="translate(42.00,552.90) scale(1,1.08)" font-size="6.7" font-weight="bold" font-style="normal" fill="#1a1a1a" text-anchor="middle" stroke="#1a1a1a" stroke-width="0.25">5</text>
<line x1="62.30" y1="542.90" x2="62.30" y2="545.70" stroke="#1a1a1a" stroke-width="1.1"/>
<text transform="translate(62.30,552.90) scale(1,1.08)" font-size="6.7" font-weight="bold" font-style="normal" fill="#1a1a1a" text-anchor="middle" stroke="#1a1a1a" stroke-width="0.25">10</text>
<line x1="82.60" y1="542.90" x2="82.60" y2="545.70" stroke="#1a1a1a" stroke-width="1.1"/>
<text transform="translate(82.60,552.90) scale(1,1.08)" font-size="6.7" font-weight="bold" font-style="normal" fill="#1a1a1a" text-anchor="middle" stroke="#1a1a1a" stroke-width="0.25">15</text>
<line x1="104.60" y1="542.90" x2="104.60" y2="545.70" stroke="#1a1a1a" stroke-width="1.1"/>
<text transform="translate(104.60,552.90) scale(1,1.08)" font-size="6.7" font-weight="bold" font-style="normal" fill="#1a1a1a" text-anchor="middle" stroke="#1a1a1a" stroke-width="0.25">20</text>
<line x1="125.70" y1="542.90" x2="125.70" y2="545.70" stroke="#1a1a1a" stroke-width="1.1"/>
<text transform="translate(125.70,552.90) scale(1,1.08)" font-size="6.7" font-weight="bold" font-style="normal" fill="#1a1a1a" text-anchor="middle" stroke="#1a1a1a" stroke-width="0.25">25</text>
<line x1="147.50" y1="542.90" x2="147.50" y2="545.70" stroke="#1a1a1a" stroke-width="1.1"/>
<text transform="translate(147.50,552.90) scale(1,1.08)" font-size="6.7" font-weight="bold" font-style="normal" fill="#1a1a1a" text-anchor="middle" stroke="#1a1a1a" stroke-width="0.25">30</text>
<text transform="translate(114.95,416.60) scale(1,0.973)" font-size="9.22" font-weight="bold" font-style="italic" fill="#111" textLength="34.60" lengthAdjust="spacingAndGlyphs" stroke="#111" stroke-width="0.32">P=0.001</text>
<text transform="translate(86.75,446.90) scale(1,1.004)" font-size="9.39" font-weight="bold" font-style="normal" fill="#111" textLength="55.60" lengthAdjust="spacingAndGlyphs" stroke="#111" stroke-width="0.32">Transplant +</text>
<text transform="translate(96.35,458.10) scale(1,0.91)" font-size="8.37" font-weight="bold" font-style="normal" fill="#111" textLength="45.60" lengthAdjust="spacingAndGlyphs" stroke="#111" stroke-width="0.32">15 yr 60.6%</text>
<text transform="translate(48.75,519.00) scale(1,0.975)" font-size="9.49" font-weight="bold" font-style="normal" fill="#111" textLength="53.80" lengthAdjust="spacingAndGlyphs" stroke="#111" stroke-width="0.32">Transplant -</text>
<text transform="translate(70.15,529.30) scale(1,0.93)" font-size="8.42" font-weight="bold" font-style="normal" fill="#111" textLength="45.90" lengthAdjust="spacingAndGlyphs" stroke="#111" stroke-width="0.32">15 yr 25.7%</text>
<polyline points="21.90,408.70 23.10,410.40 26.50,411.50 29.40,414.40 32.30,417.30 34.00,421.90 38.60,422.50 39.80,427.70 42.70,428.80 44.40,433.40 48.40,434.00 49.60,438.00 53.10,443.30 58.30,443.80 58.80,451.90 71.50,451.90 72.10,457.90 86.40,457.90 86.40,469.40 92.00,469.40 92.00,484.00 93.00,484.00 93.00,497.30 135.70,497.30" fill="none" stroke="#111" stroke-width="1.1" stroke-linejoin="miter" stroke-linecap="butt"/>
<polyline points="135.70,497.30 135.70,535.70" fill="none" stroke="#8a8a8a" stroke-width="1.1" stroke-linejoin="miter" stroke-linecap="butt"/>
<circle cx="26.00" cy="411.00" r="1.30" fill="#111"/>
<circle cx="29.50" cy="414.50" r="1.30" fill="#111"/>
<circle cx="33.00" cy="418.00" r="1.30" fill="#111"/>
<circle cx="36.00" cy="422.20" r="1.30" fill="#111"/>
<circle cx="41.00" cy="428.50" r="1.30" fill="#111"/>
<circle cx="45.00" cy="433.50" r="1.30" fill="#111"/>
<circle cx="53.00" cy="443.50" r="1.30" fill="#111"/>
<circle cx="56.00" cy="443.80" r="1.30" fill="#111"/>
<circle cx="61.00" cy="451.90" r="1.30" fill="#111"/>
<circle cx="64.00" cy="451.90" r="1.30" fill="#111"/>
<circle cx="67.00" cy="451.90" r="1.30" fill="#111"/>
<circle cx="80.00" cy="457.90" r="1.30" fill="#111"/>
<circle cx="82.00" cy="457.90" r="1.30" fill="#111"/>
<circle cx="93.00" cy="497.30" r="1.30" fill="#111"/>
<circle cx="108.00" cy="497.30" r="1.30" fill="#111"/>
<polyline points="21.90,408.70 21.90,415.60 23.70,416.10 24.80,423.00 25.40,431.10 27.10,435.80 30.00,439.80 31.10,446.10 32.30,451.90 36.30,455.40 38.10,460.00 41.90,475.40 55.80,475.40 55.80,481.50 66.50,481.50 66.50,495.00 75.50,495.00 75.50,503.30 97.70,503.30" fill="none" stroke="#111" stroke-width="1.1" stroke-linejoin="miter" stroke-linecap="butt"/>
<circle cx="25.50" cy="431.00" r="1.30" fill="#111"/>
<circle cx="27.50" cy="436.00" r="1.30" fill="#111"/>
<circle cx="30.00" cy="440.00" r="1.30" fill="#111"/>
<circle cx="35.00" cy="455.00" r="1.30" fill="#111"/>
<circle cx="37.00" cy="457.00" r="1.30" fill="#111"/>
<circle cx="42.00" cy="475.40" r="1.30" fill="#111"/>
<circle cx="46.00" cy="475.40" r="1.30" fill="#111"/>
<circle cx="48.00" cy="475.40" r="1.30" fill="#111"/>
<circle cx="52.00" cy="475.40" r="1.30" fill="#111"/>
<circle cx="67.50" cy="495.00" r="1.30" fill="#111"/>
<circle cx="77.00" cy="503.30" r="1.30" fill="#111"/>
<circle cx="82.00" cy="503.30" r="1.30" fill="#111"/>
<circle cx="91.50" cy="503.30" r="1.30" fill="#111"/>
<circle cx="97.00" cy="503.30" r="1.30" fill="#111"/>
<text x="202.40" y="400.30" font-size="11.3" font-weight="normal" font-style="normal" fill="#111" textLength="111.00" lengthAdjust="spacing" stroke="#111" stroke-width="0.16">HSCT/ T-cell infection</text>
<rect x="184.50" y="406.50" width="146.50" height="138.30" fill="none" stroke="#1a1a1a" stroke-width="1.3"/>
<line x1="181.70" y1="413.50" x2="184.50" y2="413.50" stroke="#1a1a1a" stroke-width="1.1"/>
<text transform="translate(181.20,415.60) scale(1,1.2)" font-size="5.8" font-weight="bold" font-style="normal" fill="#1a1a1a" text-anchor="end" stroke="#1a1a1a" stroke-width="0.2">1.0</text>
<line x1="181.70" y1="438.50" x2="184.50" y2="438.50" stroke="#1a1a1a" stroke-width="1.1"/>
<text transform="translate(181.20,440.60) scale(1,1.2)" font-size="5.8" font-weight="bold" font-style="normal" fill="#1a1a1a" text-anchor="end" stroke="#1a1a1a" stroke-width="0.2">0.8</text>
<line x1="181.70" y1="463.50" x2="184.50" y2="463.50" stroke="#1a1a1a" stroke-width="1.1"/>
<text transform="translate(181.20,465.60) scale(1,1.2)" font-size="5.8" font-weight="bold" font-style="normal" fill="#1a1a1a" text-anchor="end" stroke="#1a1a1a" stroke-width="0.2">0.6</text>
<line x1="181.70" y1="488.50" x2="184.50" y2="488.50" stroke="#1a1a1a" stroke-width="1.1"/>
<text transform="translate(181.20,490.60) scale(1,1.2)" font-size="5.8" font-weight="bold" font-style="normal" fill="#1a1a1a" text-anchor="end" stroke="#1a1a1a" stroke-width="0.2">0.4</text>
<line x1="181.70" y1="513.50" x2="184.50" y2="513.50" stroke="#1a1a1a" stroke-width="1.1"/>
<text transform="translate(181.20,515.60) scale(1,1.2)" font-size="5.8" font-weight="bold" font-style="normal" fill="#1a1a1a" text-anchor="end" stroke="#1a1a1a" stroke-width="0.2">0.2</text>
<line x1="181.70" y1="538.50" x2="184.50" y2="538.50" stroke="#1a1a1a" stroke-width="1.1"/>
<text transform="translate(181.20,540.60) scale(1,1.2)" font-size="5.8" font-weight="bold" font-style="normal" fill="#1a1a1a" text-anchor="end" stroke="#1a1a1a" stroke-width="0.2">0.0</text>
<line x1="197.00" y1="544.80" x2="197.00" y2="547.60" stroke="#1a1a1a" stroke-width="1.1"/>
<text transform="translate(197.00,555.50) scale(1,1.08)" font-size="6.7" font-weight="bold" font-style="normal" fill="#1a1a1a" text-anchor="middle" stroke="#1a1a1a" stroke-width="0.25">0</text>
<line x1="217.20" y1="544.80" x2="217.20" y2="547.60" stroke="#1a1a1a" stroke-width="1.1"/>
<text transform="translate(217.20,555.50) scale(1,1.08)" font-size="6.7" font-weight="bold" font-style="normal" fill="#1a1a1a" text-anchor="middle" stroke="#1a1a1a" stroke-width="0.25">5</text>
<line x1="237.70" y1="544.80" x2="237.70" y2="547.60" stroke="#1a1a1a" stroke-width="1.1"/>
<text transform="translate(237.70,555.50) scale(1,1.08)" font-size="6.7" font-weight="bold" font-style="normal" fill="#1a1a1a" text-anchor="middle" stroke="#1a1a1a" stroke-width="0.25">10</text>
<line x1="258.00" y1="544.80" x2="258.00" y2="547.60" stroke="#1a1a1a" stroke-width="1.1"/>
<text transform="translate(258.00,555.50) scale(1,1.08)" font-size="6.7" font-weight="bold" font-style="normal" fill="#1a1a1a" text-anchor="middle" stroke="#1a1a1a" stroke-width="0.25">15</text>
<line x1="280.00" y1="544.80" x2="280.00" y2="547.60" stroke="#1a1a1a" stroke-width="1.1"/>
<text transform="translate(280.00,555.50) scale(1,1.08)" font-size="6.7" font-weight="bold" font-style="normal" fill="#1a1a1a" text-anchor="middle" stroke="#1a1a1a" stroke-width="0.25">20</text>
<line x1="300.70" y1="544.80" x2="300.70" y2="547.60" stroke="#1a1a1a" stroke-width="1.1"/>
<text transform="translate(300.70,555.50) scale(1,1.08)" font-size="6.7" font-weight="bold" font-style="normal" fill="#1a1a1a" text-anchor="middle" stroke="#1a1a1a" stroke-width="0.25">25</text>
<line x1="322.90" y1="544.80" x2="322.90" y2="547.60" stroke="#1a1a1a" stroke-width="1.1"/>
<text transform="translate(322.90,555.50) scale(1,1.08)" font-size="6.7" font-weight="bold" font-style="normal" fill="#1a1a1a" text-anchor="middle" stroke="#1a1a1a" stroke-width="0.25">30</text>
<text transform="translate(297.25,416.80) scale(1,0.981)" font-size="8.58" font-weight="bold" font-style="italic" fill="#111" textLength="32.20" lengthAdjust="spacingAndGlyphs" stroke="#111" stroke-width="0.32">P=0.003</text>
<text transform="translate(260.95,456.60) scale(1,1.114)" font-size="9.23" font-weight="bold" font-style="normal" fill="#111" textLength="54.60" lengthAdjust="spacingAndGlyphs" stroke="#111" stroke-width="0.32">Transplant +</text>
<text transform="translate(268.75,469.90) scale(1,1.027)" font-size="8.42" font-weight="bold" font-style="normal" fill="#111" textLength="45.90" lengthAdjust="spacingAndGlyphs" stroke="#111" stroke-width="0.32">15 yr 56.9%</text>
<text transform="translate(203.75,503.80) scale(1,1.01)" font-size="9.51" font-weight="bold" font-style="normal" fill="#111" textLength="53.90" lengthAdjust="spacingAndGlyphs" stroke="#111" stroke-width="0.32">Transplant -</text>
<text transform="translate(204.75,516.70) scale(1,1.052)" font-size="8.35" font-weight="bold" font-style="normal" fill="#111" textLength="45.50" lengthAdjust="spacingAndGlyphs" stroke="#111" stroke-width="0.32">15 yr 36.1%</text>
<polyline points="263.00,466.90 263.00,540.60" fill="none" stroke="#8a8a8a" stroke-width="1.1" stroke-linejoin="miter" stroke-linecap="butt"/>
<polyline points="192.40,413.50 201.60,413.50 201.60,423.00 209.60,423.00 209.60,434.60 218.80,434.60 218.80,446.90 228.80,446.90 228.80,466.90 263.00,466.90" fill="none" stroke="#111" stroke-width="1.1" stroke-linejoin="miter" stroke-linecap="butt"/>
<circle cx="198.00" cy="413.50" r="1.30" fill="#111"/>
<circle cx="200.60" cy="413.50" r="1.30" fill="#111"/>
<circle cx="205.50" cy="423.00" r="1.30" fill="#111"/>
<circle cx="211.00" cy="434.60" r="1.30" fill="#111"/>
<circle cx="219.50" cy="446.90" r="1.30" fill="#111"/>
<circle cx="224.00" cy="446.90" r="1.30" fill="#111"/>
<circle cx="227.50" cy="446.90" r="1.30" fill="#111"/>
<circle cx="232.60" cy="466.90" r="1.30" fill="#111"/>
<circle cx="235.70" cy="466.90" r="1.30" fill="#111"/>
<circle cx="253.00" cy="466.90" r="1.30" fill="#111"/>
<circle cx="255.00" cy="466.90" r="1.30" fill="#111"/>
<polyline points="192.40,413.50 192.40,425.10 194.20,425.10 196.50,440.80 198.10,448.50 199.60,452.30 201.20,453.00 203.50,470.00 207.40,480.00 209.10,487.80 210.80,488.70 212.10,493.00 264.00,493.00" fill="none" stroke="#111" stroke-width="1.3" stroke-linejoin="miter" stroke-linecap="butt"/>
<circle cx="196.50" cy="440.00" r="1.30" fill="#111"/>
<circle cx="198.00" cy="447.00" r="1.30" fill="#111"/>
<circle cx="201.00" cy="453.00" r="1.30" fill="#111"/>
<circle cx="212.50" cy="493.00" r="1.30" fill="#111"/>
<circle cx="219.00" cy="493.00" r="1.30" fill="#111"/>
<circle cx="226.80" cy="493.00" r="1.30" fill="#111"/>
<circle cx="247.70" cy="493.00" r="1.30" fill="#111"/>
<circle cx="252.80" cy="493.00" r="1.30" fill="#111"/>
<circle cx="262.00" cy="493.00" r="1.30" fill="#111"/>
<text x="372.50" y="401.40" font-size="11.3" font-weight="normal" font-style="normal" fill="#111" textLength="120.20" lengthAdjust="spacing" stroke="#111" stroke-width="0.16">HSCT/ NK-cell infection</text>
<rect x="360.50" y="407.70" width="142.00" height="137.70" fill="none" stroke="#1a1a1a" stroke-width="1.3"/>
<line x1="357.70" y1="415.40" x2="360.50" y2="415.40" stroke="#1a1a1a" stroke-width="1.1"/>
<text transform="translate(356.20,417.50) scale(1,1.2)" font-size="5.8" font-weight="bold" font-style="normal" fill="#1a1a1a" text-anchor="end" stroke="#1a1a1a" stroke-width="0.2">1.0</text>
<line x1="357.70" y1="440.08" x2="360.50" y2="440.08" stroke="#1a1a1a" stroke-width="1.1"/>
<text transform="translate(356.20,442.18) scale(1,1.2)" font-size="5.8" font-weight="bold" font-style="normal" fill="#1a1a1a" text-anchor="end" stroke="#1a1a1a" stroke-width="0.2">0.8</text>
<line x1="357.70" y1="464.76" x2="360.50" y2="464.76" stroke="#1a1a1a" stroke-width="1.1"/>
<text transform="translate(356.20,466.86) scale(1,1.2)" font-size="5.8" font-weight="bold" font-style="normal" fill="#1a1a1a" text-anchor="end" stroke="#1a1a1a" stroke-width="0.2">0.6</text>
<line x1="357.70" y1="489.44" x2="360.50" y2="489.44" stroke="#1a1a1a" stroke-width="1.1"/>
<text transform="translate(356.20,491.54) scale(1,1.2)" font-size="5.8" font-weight="bold" font-style="normal" fill="#1a1a1a" text-anchor="end" stroke="#1a1a1a" stroke-width="0.2">0.4</text>
<line x1="357.70" y1="514.12" x2="360.50" y2="514.12" stroke="#1a1a1a" stroke-width="1.1"/>
<text transform="translate(356.20,516.22) scale(1,1.2)" font-size="5.8" font-weight="bold" font-style="normal" fill="#1a1a1a" text-anchor="end" stroke="#1a1a1a" stroke-width="0.2">0.2</text>
<line x1="357.70" y1="538.80" x2="360.50" y2="538.80" stroke="#1a1a1a" stroke-width="1.1"/>
<text transform="translate(356.20,540.90) scale(1,1.2)" font-size="5.8" font-weight="bold" font-style="normal" fill="#1a1a1a" text-anchor="end" stroke="#1a1a1a" stroke-width="0.2">0.0</text>
<line x1="367.70" y1="545.40" x2="367.70" y2="548.20" stroke="#1a1a1a" stroke-width="1.1"/>
<text transform="translate(367.70,556.00) scale(1,1.08)" font-size="6.7" font-weight="bold" font-style="normal" fill="#1a1a1a" text-anchor="middle" stroke="#1a1a1a" stroke-width="0.25">0</text>
<line x1="388.10" y1="545.40" x2="388.10" y2="548.20" stroke="#1a1a1a" stroke-width="1.1"/>
<text transform="translate(388.10,556.00) scale(1,1.08)" font-size="6.7" font-weight="bold" font-style="normal" fill="#1a1a1a" text-anchor="middle" stroke="#1a1a1a" stroke-width="0.25">5</text>
<line x1="408.30" y1="545.40" x2="408.30" y2="548.20" stroke="#1a1a1a" stroke-width="1.1"/>
<text transform="translate(408.30,556.00) scale(1,1.08)" font-size="6.7" font-weight="bold" font-style="normal" fill="#1a1a1a" text-anchor="middle" stroke="#1a1a1a" stroke-width="0.25">10</text>
<line x1="429.10" y1="545.40" x2="429.10" y2="548.20" stroke="#1a1a1a" stroke-width="1.1"/>
<text transform="translate(429.10,556.00) scale(1,1.08)" font-size="6.7" font-weight="bold" font-style="normal" fill="#1a1a1a" text-anchor="middle" stroke="#1a1a1a" stroke-width="0.25">15</text>
<line x1="450.80" y1="545.40" x2="450.80" y2="548.20" stroke="#1a1a1a" stroke-width="1.1"/>
<text transform="translate(450.80,556.00) scale(1,1.08)" font-size="6.7" font-weight="bold" font-style="normal" fill="#1a1a1a" text-anchor="middle" stroke="#1a1a1a" stroke-width="0.25">20</text>
<line x1="471.90" y1="545.40" x2="471.90" y2="548.20" stroke="#1a1a1a" stroke-width="1.1"/>
<text transform="translate(471.90,556.00) scale(1,1.08)" font-size="6.7" font-weight="bold" font-style="normal" fill="#1a1a1a" text-anchor="middle" stroke="#1a1a1a" stroke-width="0.25">25</text>
<line x1="494.00" y1="545.40" x2="494.00" y2="548.20" stroke="#1a1a1a" stroke-width="1.1"/>
<text transform="translate(494.00,556.00) scale(1,1.08)" font-size="6.7" font-weight="bold" font-style="normal" fill="#1a1a1a" text-anchor="middle" stroke="#1a1a1a" stroke-width="0.25">30</text>
<text transform="translate(471.85,419.40) scale(1,0.865)" font-size="8.7" font-weight="bold" font-style="italic" fill="#111" textLength="27.80" lengthAdjust="spacingAndGlyphs" stroke="#111" stroke-width="0.32">P=0.12</text>
<text transform="translate(439.85,473.30) scale(1,0.857)" font-size="9.53" font-weight="bold" font-style="normal" fill="#111" textLength="56.40" lengthAdjust="spacingAndGlyphs" stroke="#111" stroke-width="0.32">Transplant +</text>
<text transform="translate(454.25,482.50) scale(1,1.033)" font-size="8.44" font-weight="bold" font-style="normal" fill="#111" textLength="46.00" lengthAdjust="spacingAndGlyphs" stroke="#111" stroke-width="0.32">15 yr 63.5%</text>
<text transform="translate(414.75,529.00) scale(1,0.919)" font-size="9.51" font-weight="bold" font-style="normal" fill="#111" textLength="53.90" lengthAdjust="spacingAndGlyphs" stroke="#111" stroke-width="0.32">Transplant -</text>
<text transform="translate(430.35,537.70) scale(1,1.026)" font-size="8.44" font-weight="bold" font-style="normal" fill="#111" textLength="46.00" lengthAdjust="spacingAndGlyphs" stroke="#111" stroke-width="0.32">15 yr 17.3%</text>
<text x="401.80" y="568.60" font-size="11.4" font-weight="normal" font-style="normal" fill="#111" textLength="116.80" lengthAdjust="spacing" stroke="#111" stroke-width="0.16">Time after onset, years</text>
<polyline points="368.50,415.20 370.00,415.20 370.00,420.00 371.50,420.80 372.30,424.60 374.60,428.50 376.90,428.50 377.70,430.80 379.20,433.00 388.50,433.00 388.50,439.20 394.60,439.20 394.60,446.20 396.90,450.30 415.40,450.30 415.40,460.00 430.80,460.00 430.80,475.10 436.90,475.10 436.90,491.50 477.70,491.50 477.70,537.70" fill="none" stroke="#555" stroke-width="1.1" stroke-linejoin="miter" stroke-linecap="butt"/>
<circle cx="387.00" cy="433.00" r="1.30" fill="#111"/>
<circle cx="398.00" cy="450.30" r="1.30" fill="#111"/>
<circle cx="403.00" cy="450.30" r="1.30" fill="#111"/>
<circle cx="407.00" cy="450.30" r="1.30" fill="#111"/>
<circle cx="411.00" cy="450.30" r="1.30" fill="#111"/>
<circle cx="414.00" cy="450.30" r="1.30" fill="#111"/>
<circle cx="418.00" cy="460.00" r="1.30" fill="#111"/>
<circle cx="426.00" cy="460.00" r="1.30" fill="#111"/>
<circle cx="428.00" cy="460.00" r="1.30" fill="#111"/>
<circle cx="437.00" cy="491.50" r="1.30" fill="#111"/>
<circle cx="451.00" cy="491.50" r="1.30" fill="#111"/>
<polyline points="368.50,415.20 368.50,429.20 376.90,429.20 376.90,436.90 381.50,436.90 384.60,440.00 384.60,446.20 386.20,454.60 401.50,454.60 401.50,466.90 411.80,466.90 411.80,495.90 419.90,495.90 419.90,516.70 441.50,516.70" fill="none" stroke="#111" stroke-width="1.2" stroke-linejoin="miter" stroke-linecap="butt"/>
<circle cx="376.00" cy="429.20" r="1.30" fill="#111"/>
<circle cx="379.00" cy="436.90" r="1.30" fill="#111"/>
<circle cx="387.00" cy="454.60" r="1.30" fill="#111"/>
<circle cx="391.00" cy="454.60" r="1.30" fill="#111"/>
<circle cx="401.50" cy="467.00" r="1.30" fill="#111"/>
<circle cx="412.00" cy="480.00" r="1.30" fill="#111"/>
<circle cx="411.80" cy="495.90" r="1.30" fill="#111"/>
<circle cx="441.50" cy="516.70" r="1.30" fill="#111"/>
</g></svg>
</body></html>
